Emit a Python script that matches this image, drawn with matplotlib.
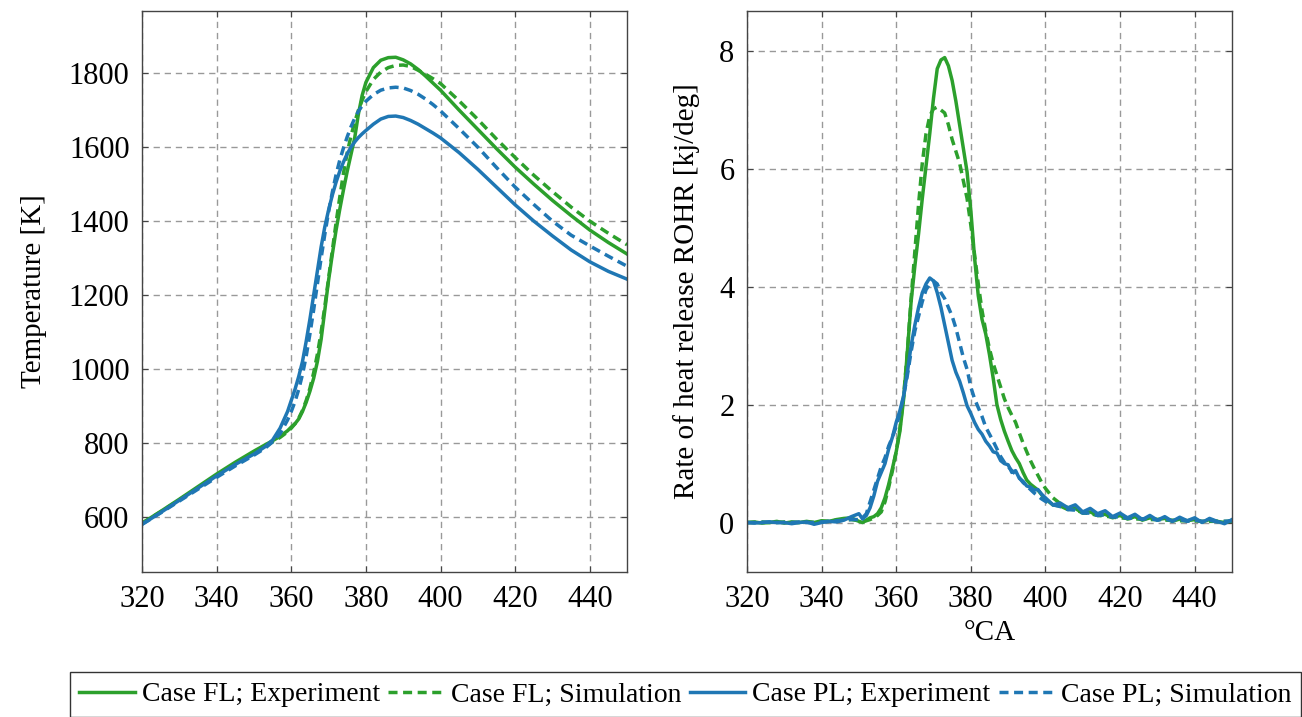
import matplotlib
matplotlib.use('Agg')
import matplotlib.pyplot as plt

plt.rcParams['font.family'] = ['Liberation Serif', 'DejaVu Serif']
plt.rcParams['lines.scale_dashes'] = False

green = '#2ca02c'
blue = '#1f77b4'

# temperature, left panel
T_x = [320, 325, 330, 335, 340, 345, 350, 353, 355, 357, 359, 360, 361, 362, 363, 364, 365,
       366, 367, 368, 369, 370, 371, 372, 373, 374, 375, 376, 377, 378, 379, 380, 382, 384,
       386, 388, 390, 392, 394, 396, 398, 400, 405, 410, 415, 420, 425, 430, 435, 440, 445, 450]
T_fl_exp = [583, 615, 648, 682, 716, 748, 778, 795, 806, 818, 833, 843, 852, 865, 885, 910, 940,
            975, 1020, 1080, 1160, 1240, 1310, 1375, 1432, 1485, 1535, 1580, 1625, 1690, 1740, 1775, 1815, 1835,
            1842, 1843, 1836, 1825, 1810, 1792, 1773, 1754, 1700, 1648, 1596, 1546, 1500, 1456, 1415, 1376, 1342, 1311]
T_fl_sim = [583, 614, 646, 679, 712, 743, 772, 790, 803, 815, 830, 840, 852, 867, 888, 915, 948,
            990, 1040, 1100, 1170, 1245, 1320, 1395, 1465, 1530, 1585, 1630, 1668, 1700, 1727, 1750, 1783, 1803,
            1815, 1821, 1822, 1818, 1808, 1797, 1785, 1772, 1725, 1675, 1622, 1572, 1524, 1480, 1438, 1400, 1367, 1336]
T_pl_exp = [580, 612, 645, 678, 711, 742, 770, 790, 808, 840, 885, 915, 945, 980, 1020, 1075, 1135,
            1200, 1265, 1330, 1385, 1430, 1470, 1505, 1535, 1560, 1582, 1600, 1614, 1626, 1636, 1645, 1662, 1676,
            1683, 1684, 1680, 1672, 1662, 1650, 1638, 1625, 1585, 1540, 1492, 1444, 1400, 1360, 1322, 1290, 1264, 1243]
T_pl_sim = [580, 611, 643, 675, 707, 738, 767, 786, 803, 825, 862, 885, 912, 945, 985, 1035, 1095,
            1160, 1230, 1300, 1365, 1425, 1478, 1525, 1565, 1598, 1628, 1655, 1678, 1697, 1712, 1724, 1742, 1754,
            1760, 1762, 1760, 1753, 1743, 1730, 1715, 1698, 1650, 1600, 1545, 1492, 1445, 1400, 1362, 1333, 1305, 1278]

# rate of heat release, right panel
R_x = list(range(320, 350, 2)) + list(range(350, 400)) + list(range(400, 451, 2))
R_fl_exp = [0.0, 0.01, -0.01, 0.0, 0.02, -0.01, 0.01, 0.0, 0.02, 0.0, 0.03, 0.02, 0.05, 0.07, 0.08,
            0.02, 0.0, 0.04, 0.08, 0.1, 0.15, 0.25, 0.42, 0.65, 0.92, 1.2, 1.55, 2.1, 2.9, 3.75,
            4.35, 4.9, 5.5, 6.05, 6.6, 7.2, 7.7, 7.85, 7.89, 7.75, 7.5, 7.15, 6.75, 6.35, 5.95,
            5.3, 4.5, 3.85, 3.45, 3.2, 2.85, 2.45, 2.0, 1.75, 1.55, 1.38, 1.22, 1.1, 1.0, 0.85,
            0.72, 0.65, 0.6, 0.55, 0.47,
            0.4, 0.3, 0.28, 0.22, 0.24, 0.16, 0.18, 0.12, 0.14, 0.08, 0.12, 0.06, 0.1, 0.04, 0.08,
            0.05, 0.07, 0.02, 0.06, 0.03, 0.05, 0.01, 0.05, 0.02, 0.0, 0.03]
R_fl_sim = [0.0, 0.0, 0.01, 0.0, 0.0, 0.01, 0.0, 0.0, 0.01, 0.0, 0.02, 0.02, 0.04, 0.05, 0.05,
            0.03, 0.02, 0.03, 0.05, 0.08, 0.12, 0.18, 0.35, 0.6, 0.88, 1.2, 1.6, 2.15, 2.9, 3.8,
            4.6, 5.4, 6.1, 6.6, 6.9, 7.02, 7.05, 7.0, 6.95, 6.75, 6.5, 6.3, 6.1, 5.8, 5.5,
            5.05, 4.55, 4.05, 3.6, 3.25, 2.95, 2.7, 2.5, 2.3, 2.1, 1.95, 1.82, 1.7, 1.52, 1.35,
            1.2, 1.05, 0.92, 0.8, 0.68,
            0.58, 0.42, 0.32, 0.25, 0.21, 0.17, 0.15, 0.12, 0.11, 0.09, 0.08, 0.07, 0.06, 0.06, 0.05,
            0.05, 0.04, 0.04, 0.03, 0.03, 0.03, 0.02, 0.02, 0.02, 0.02, 0.02]
R_pl_exp = [0.0, -0.01, 0.0, 0.01, 0.0, 0.0, -0.02, 0.0, 0.01, -0.03, 0.0, 0.02, 0.01, 0.04, 0.1,
            0.15, 0.06, 0.12, 0.25, 0.45, 0.7, 0.85, 1.0, 1.25, 1.45, 1.7, 1.9, 2.15, 2.55, 3.0,
            3.35, 3.65, 3.9, 4.05, 4.15, 4.1, 3.9, 3.65, 3.35, 3.05, 2.75, 2.55, 2.4, 2.2, 1.98,
            1.85, 1.7, 1.58, 1.5, 1.38, 1.3, 1.2, 1.18, 1.05, 1.0, 0.98, 0.85, 0.88, 0.75, 0.7,
            0.62, 0.6, 0.55, 0.56, 0.48,
            0.42, 0.3, 0.33, 0.25, 0.3, 0.18, 0.24, 0.15, 0.2, 0.1, 0.16, 0.08, 0.14, 0.05, 0.12,
            0.04, 0.1, 0.02, 0.09, 0.03, 0.08, 0.0, 0.07, 0.02, -0.02, 0.05]
R_pl_sim = [0.0, 0.0, 0.0, 0.01, 0.0, 0.0, 0.0, 0.01, 0.0, 0.0, 0.01, 0.02, 0.03, 0.04, 0.05,
            0.05, 0.08, 0.15, 0.35, 0.55, 0.75, 0.95, 1.1, 1.3, 1.45, 1.63, 1.85, 2.15, 2.5, 2.9,
            3.25, 3.5, 3.75, 3.95, 4.05, 4.1, 4.05, 3.9, 3.8, 3.65, 3.5, 3.3, 3.05, 2.8, 2.6,
            2.3, 2.1, 1.95, 1.8, 1.62, 1.5, 1.38, 1.25, 1.12, 1.02, 0.95, 0.88, 0.82, 0.76, 0.68,
            0.62, 0.56, 0.5, 0.45, 0.4,
            0.36, 0.3, 0.27, 0.22, 0.21, 0.16, 0.16, 0.12, 0.13, 0.09, 0.1, 0.07, 0.08, 0.06, 0.07,
            0.04, 0.06, 0.03, 0.05, 0.02, 0.04, 0.02, 0.04, 0.01, 0.02, 0.03]

labels = ['Case FL; Experiment', 'Case FL; Simulation', 'Case PL; Experiment', 'Case PL; Simulation']

fig = plt.figure(figsize=(13.02, 7.17), dpi=100)
ax1 = fig.add_axes([0.1091, 0.2022, 0.3725, 0.7824])
ax2 = fig.add_axes([0.5737, 0.2022, 0.3725, 0.7824])

lw = 2.5
dash = (0, (6.5, 4))

h1, = ax1.plot(T_x, T_fl_exp, color=green, lw=lw)
h2, = ax1.plot(T_x, T_fl_sim, color=green, lw=lw, ls=dash)
h3, = ax1.plot(T_x, T_pl_exp, color=blue, lw=lw)
h4, = ax1.plot(T_x, T_pl_sim, color=blue, lw=lw, ls=dash)

ax2.plot(R_x, R_fl_exp, color=green, lw=lw)
ax2.plot(R_x, R_fl_sim, color=green, lw=lw, ls=dash)
ax2.plot(R_x, R_pl_exp, color=blue, lw=lw)
ax2.plot(R_x, R_pl_sim, color=blue, lw=lw, ls=dash)

ax1.set_xlim(320, 450)
ax1.set_ylim(451, 1968)
ax1.set_yticks([600, 800, 1000, 1200, 1400, 1600, 1800])
ax2.set_xlim(320, 450)
ax2.set_ylim(-0.84, 8.68)
ax2.set_yticks([0, 2, 4, 6, 8])

for ax in (ax1, ax2):
    ax.set_xticks([320, 340, 360, 380, 400, 420, 440])
    ax.grid(True, color='#999999', lw=1, ls=(0, (4.5, 3.5)))
    ax.set_axisbelow(True)
    ax.tick_params(direction='in', length=4, width=0.8, colors='#444444', labelcolor='black',
                   labelsize=22, top=True, right=True, pad=9)
    for s in ax.spines.values():
        s.set_color('#444444')
        s.set_linewidth(1)

ax1.set_ylabel('Temperature [K]', fontsize=21)
ax1.yaxis.set_label_coords(-0.195, 0.5)
ax2.set_ylabel('Rate of heat release ROHR [kj/deg]', fontsize=21)
ax2.yaxis.set_label_coords(-0.097, 0.5)
ax2.set_xlabel('°CA', fontsize=21)
ax2.xaxis.set_label_coords(0.5, -0.085)

leg = fig.legend([h1, h2, h3, h4], labels, ncol=4, loc='center',
                 bbox_to_anchor=(0.5265, 0.031), fontsize=20, frameon=True, fancybox=False,
                 handlelength=2.0, handletextpad=0.25, columnspacing=0.3, borderpad=0.35)
leg.get_frame().set_edgecolor('black')
leg.get_frame().set_linewidth(1)

fig.savefig('out.png', dpi=100)
